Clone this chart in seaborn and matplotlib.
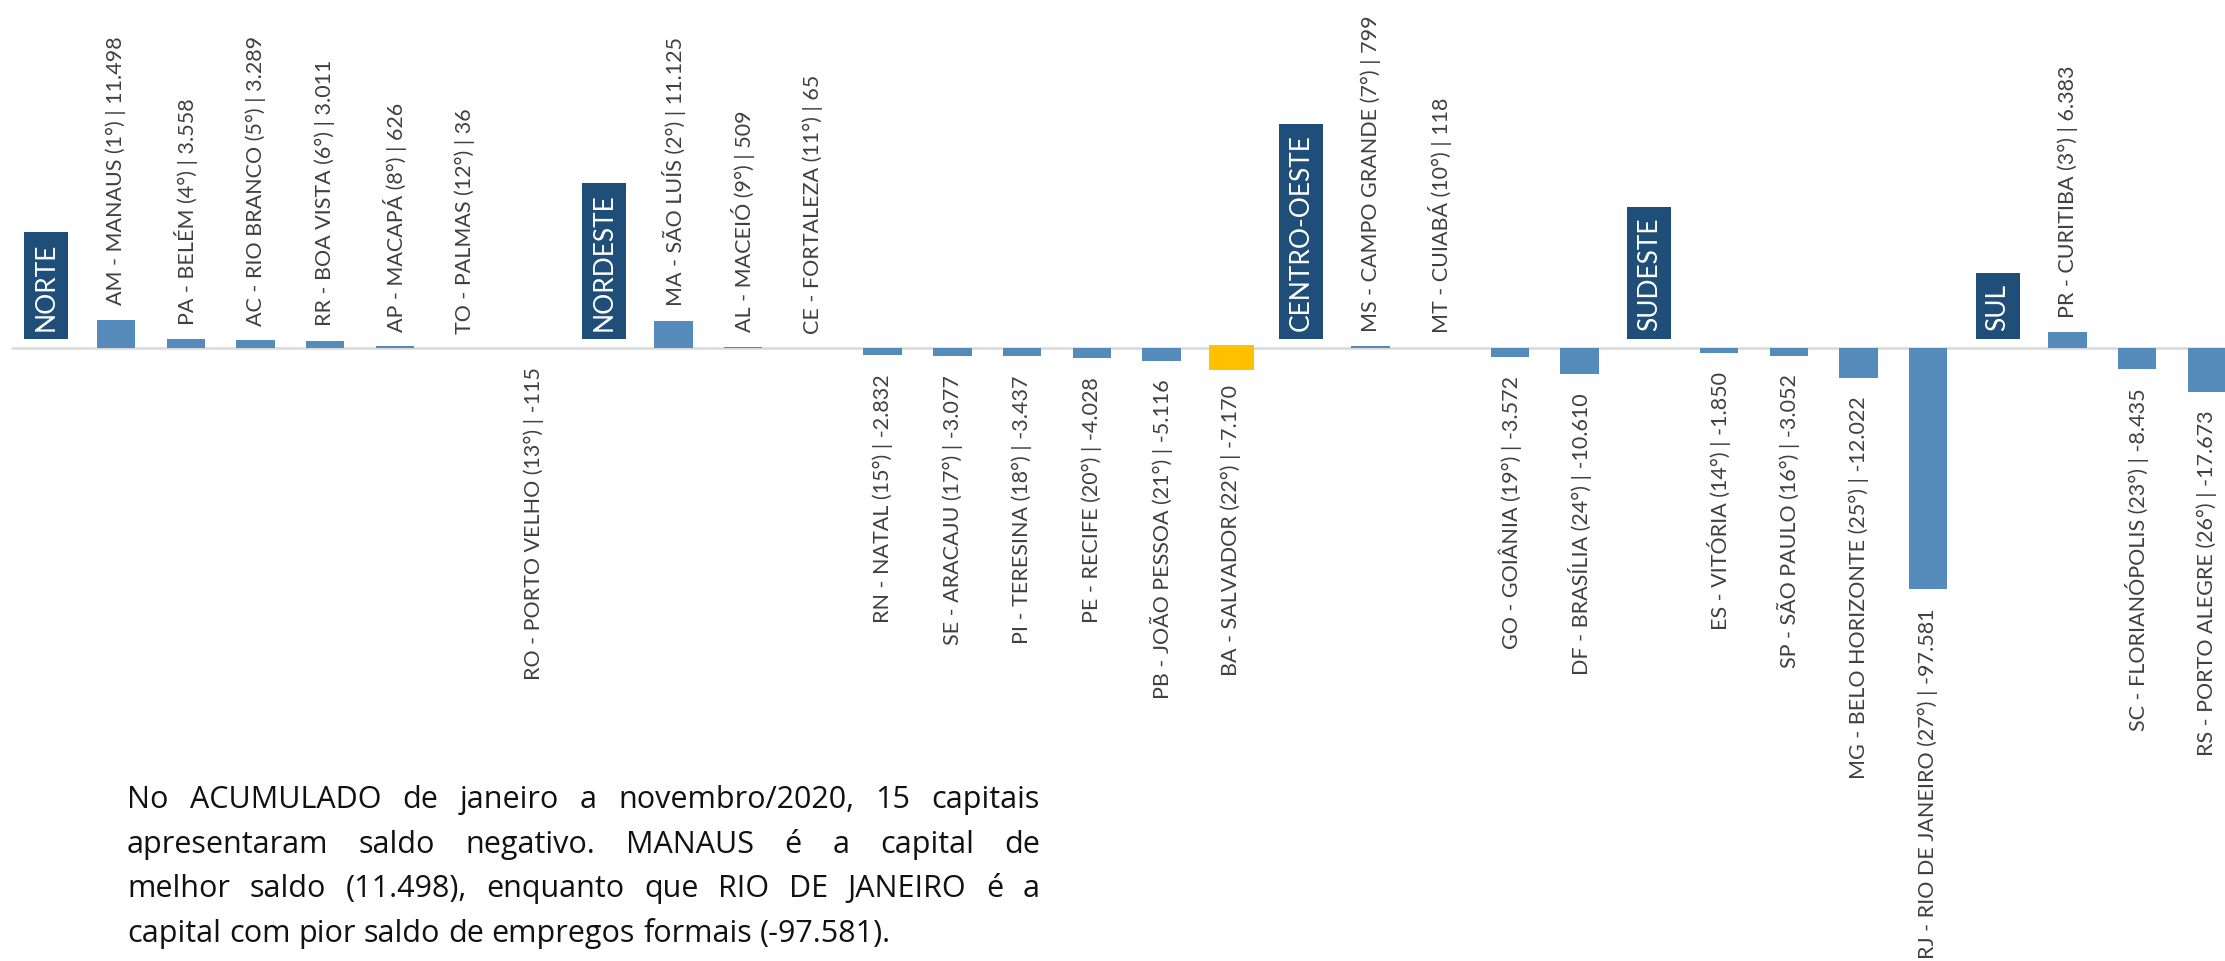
# Saldo de empregos formais por capital (acumulado jan-nov/2020)
import matplotlib.pyplot as plt
from matplotlib.transforms import IdentityTransform
import seaborn as sns
import pandas as pd

# Data
regioes = ["NORTE", "NORDESTE", "CENTRO-OESTE", "SUDESTE", "SUL"]

regiao_capital = ["NORTE"] * 7 + ["NORDESTE"] * 9 + ["CENTRO-OESTE"] * 4 + ["SUDESTE"] * 4 + ["SUL"] * 3
ufs = ["AM", "PA", "AC", "RR", "AP", "TO", "RO",
       "MA", "AL", "CE", "RN", "SE", "PI", "PE", "PB", "BA",
       "MS", "MT", "GO", "DF",
       "ES", "SP", "MG", "RJ",
       "PR", "SC", "RS"]
cidades = ["Manaus", "Belém", "Rio Branco", "Boa Vista", "Macapá", "Palmas", "Porto Velho",
           "São Luís", "Maceió", "Fortaleza", "Natal", "Aracaju", "Teresina", "Recife", "João Pessoa", "Salvador",
           "Campo Grande", "Cuiabá", "Goiânia", "Brasília",
           "Vitória", "São Paulo", "Belo Horizonte", "Rio de Janeiro",
           "Curitiba", "Florianópolis", "Porto Alegre"]
ranks = [1, 4, 5, 6, 8, 12, 13,
         2, 9, 11, 15, 17, 18, 20, 21, 22,
         7, 10, 19, 24,
         14, 16, 25, 27,
         3, 23, 26]
saldos = [11498, 3558, 3289, 3011, 626, 36, -115,
          11125, 509, 65, -2832, -3077, -3437, -4028, -5116, -7170,
          799, 118, -3572, -10610,
          -1850, -3052, -12022, -97581,
          6383, -8435, -17673]
destaque = "BA"

texto = ["No ACUMULADO de janeiro a novembro/2020, 15 capitais",
         "apresentaram saldo negativo. MANAUS é a capital de",
         "melhor saldo (11.498), enquanto que RIO DE JANEIRO é a",
         "capital com pior saldo de empregos formais (-97.581)."]

# Colors
cor_barra = "#558BBA"
cor_destaque = "#FFC000"
cor_regiao = "#1F4E79"
cor_rotulo = "#404040"


def fmt(v):
    return f"{v:,}".replace(",", ".")


# Build slots: region header followed by its capitals
rows = []
for reg in regioes:
    rows.append({"slot": reg, "saldo": 0, "tipo": "regiao", "rotulo": reg})
    for uf, cid, rk, s, r in zip(ufs, cidades, ranks, saldos, regiao_capital):
        if r == reg:
            rows.append({"slot": uf, "saldo": s, "tipo": "capital",
                         "rotulo": f"{uf} - {cid.upper()} ({rk}°) | {fmt(s)}"})
df = pd.DataFrame(rows)

palette = {row.slot: (cor_destaque if row.slot == destaque else cor_barra) for row in df.itertuples()}

sns.set_theme(style="white")
plt.rcParams["font.family"] = ["Lato", "DejaVu Sans"]

fig = plt.figure(figsize=(22.25, 9.62), dpi=100)
ax = fig.add_axes([0, 0, 1, 1])

sns.barplot(data=df, x="slot", y="saldo", hue="slot", palette=palette, order=list(df["slot"]),
            legend=False, width=0.55, saturation=1, linewidth=0, ax=ax, zorder=3)

# Highlighted bar a little wider
for patch, slot in zip(ax.patches, df["slot"]):
    if slot == destaque:
        patch.set_edgecolor(cor_destaque)
        patch.set_linewidth(5)

n = len(df)
ax.hlines(0, -0.5, n, color="#D9D9D9", linewidth=1.8, zorder=1)

ax.set_xlim(-0.664, 31.26)
ax.set_ylim(-248200, 141300)
ax.axis("off")

# Labels
for i, row in enumerate(df.itertuples()):
    if row.tipo == "regiao":
        ax.annotate(row.rotulo, xy=(i, 0), xytext=(0, 13), textcoords="offset points",
                    rotation=90, ha="center", va="bottom", color="white", fontsize=19,
                    bbox=dict(boxstyle="square,pad=0.36", fc=cor_regiao, ec="none"), zorder=4)
    elif row.saldo >= 0:
        ax.annotate(row.rotulo, xy=(i, row.saldo), xytext=(0, 11), textcoords="offset points",
                    rotation=90, ha="center", va="bottom", color=cor_rotulo, fontsize=15.5)
    else:
        ax.annotate(row.rotulo, xy=(i, row.saldo), xytext=(0, -13), textcoords="offset points",
                    rotation=90, ha="center", va="top", color=cor_rotulo, fontsize=15.5)

# Justified paragraph (pixel coordinates)
H = 962
x0, x1 = 127, 1040
base0, passo = 808, 44.7
tam = 22
renderer = fig.canvas.get_renderer()
for k, linha in enumerate(texto):
    palavras = linha.split()
    y = H - (base0 + k * passo)
    objs = [fig.text(0, y, p, transform=IdentityTransform(), fontsize=tam, family=["Open Sans", "DejaVu Sans"],
                     color="#111111", va="baseline", ha="left") for p in palavras]
    larg = [t.get_window_extent(renderer).width for t in objs]
    if k < len(texto) - 1:
        gap = (x1 - x0 - sum(larg)) / (len(palavras) - 1)
    else:
        gap = 0.26 * tam * 100 / 72
    x = x0
    for t, w in zip(objs, larg):
        t.set_x(x)
        x += w + gap

fig.savefig("out.png", dpi=100, facecolor="white")
